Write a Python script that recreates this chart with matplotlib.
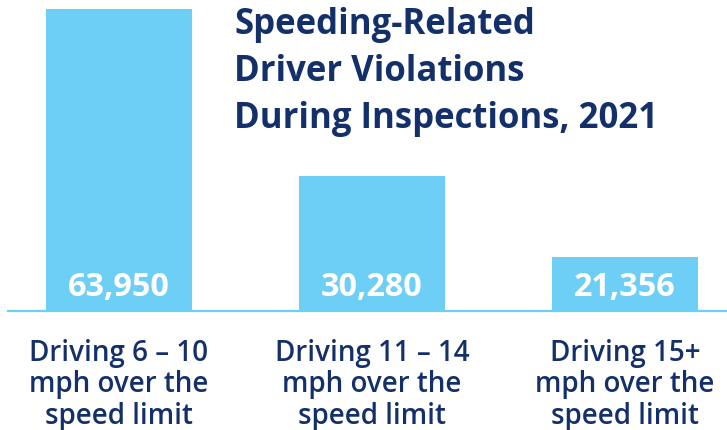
import matplotlib
matplotlib.use("Agg")
import matplotlib.pyplot as plt
import numpy as np

# данные
categories = ["Driving 6 – 10\nmph over the\nspeed limit",
              "Driving 11 – 14\nmph over the\nspeed limit",
              "Driving 15+\nmph over the\nspeed limit"]
violations = [63950, 30280, 21356]
# высоты столбцов на картинке не пропорциональны числам — берём как нарисовано
drawn_heights = [63950, 28590, 11435]
title = "Speeding-Related\nDriver Violations\nDuring Inspections, 2021"

BAR = "#6dcff6"
NAVY = "#14306b"
FONT = "Open Sans"

W, H = 727, 431
fig = plt.figure(figsize=(W / 100, H / 100), dpi=100)
base_px = 312  # базовая линия от верха
ax = fig.add_axes([0, (H - base_px) / H, 1, base_px / H])
x = np.arange(len(categories))
ax.bar(x, drawn_heights, 0.577, color=BAR, linewidth=0, zorder=2)
ax.set_xlim(-0.470, 2.403)
ax.set_ylim(0, drawn_heights[0] * base_px / 302)
ax.axis("off")
ax.axhline(0, xmin=8 / W, xmax=1, color=BAR, lw=1.6, zorder=3, clip_on=False)

for i, v in enumerate(violations):
    ax.text(i, drawn_heights[0] * 0.08, f"{v:,}", ha="center", va="center",
            color="white", fontsize=23.3, fontweight="bold", family=FONT, zorder=4)
    ax.text(i, -drawn_heights[0] * 0.09, categories[i], ha="center", va="top",
            color=NAVY, fontsize=20, fontweight="semibold", family=FONT,
            linespacing=1.1, clip_on=False)

fig.text(234 / W, 1 - 7 / H, title, ha="left", va="top", color=NAVY,
         fontsize=25, fontweight="bold", family=FONT, linespacing=1.4)

fig.savefig("out.png", dpi=100)
